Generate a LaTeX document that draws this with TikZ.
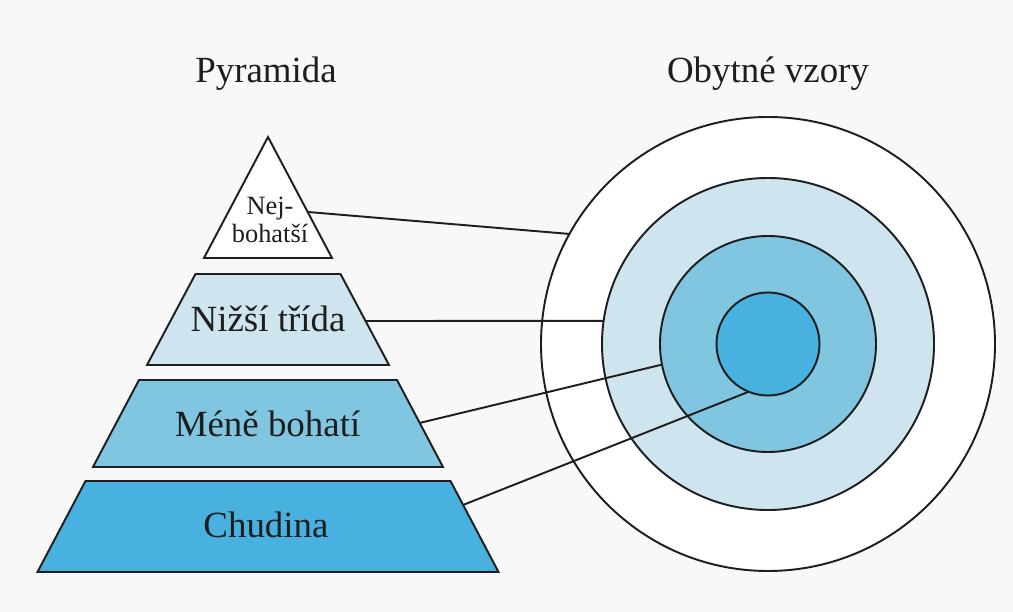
\documentclass[tikz,border=0pt]{standalone}
\usepackage{fontspec}
\setmainfont{Liberation Serif}
\definecolor{pgback}{RGB}{248,248,248}
\definecolor{pglight}{RGB}{206,228,238}
\definecolor{pgmid}{RGB}{128,198,224}
\definecolor{pgdark}{RGB}{72,177,224}
\definecolor{pgink}{RGB}{30,30,30}
\usetikzlibrary{positioning}

\begin{document}
\begin{tikzpicture}[
  layer/.style={draw=pgink, line width=1.1pt, line join=miter},
  ring/.style={circle, draw=pgink, line width=1.1pt, inner sep=0pt, outer sep=0pt},
  link/.style={draw=pgink, line width=1.1pt},
  lbl/.style={anchor=base, text=pgink, font=\fontsize{21}{25}\selectfont}
]
  \useasboundingbox (0,0) rectangle (20.26,12.24);
  \fill[pgback] (0,0) rectangle (20.26,12.24);

  %--- Titles ---
  \node[lbl] (tpyr) at (5.32,10.58) {Pyramida};
  \node[lbl] (tobs) at (15.36,10.58) {Obytné vzory};

  %--- Concentric rings ---
  \node[ring, fill=white, minimum size=9.08cm] (outer) at (15.36,5.36) {};
  \node[ring, fill=pglight, minimum size=6.64cm] (ring2) at (15.36,5.36) {};
  \node[ring, fill=pgmid, minimum size=4.32cm] (ring3) at (15.36,5.36) {};
  \node[ring, fill=pgdark, minimum size=2.06cm] (core) at (15.36,5.36) {};

  %--- Pyramid layers ---
  \filldraw[layer, fill=white] (5.36,9.50) -- (6.64,7.08) -- (4.08,7.08) -- cycle;
  \filldraw[layer, fill=pglight] (3.91,6.76) -- (6.81,6.76) -- (7.78,4.94) -- (2.94,4.94) -- cycle;
  \filldraw[layer, fill=pgmid] (2.78,4.64) -- (7.94,4.64) -- (8.86,2.90) -- (1.86,2.90) -- cycle;
  \filldraw[layer, fill=pgdark] (1.71,2.62) -- (9.01,2.62) -- (9.97,0.80) -- (0.75,0.80) -- cycle;

  \node[anchor=base, text=pgink, align=center, font=\fontsize{15}{16}\selectfont] (rich) at (5.40,7.38) {Nej-\\bohatší};
  \node[lbl] (lower) at (5.36,5.60) {Nižší třída};
  \node[lbl] (less) at (5.35,3.50) {Méně bohatí};
  \node[lbl] (poor) at (5.32,1.48) {Chudina};

  % connector ends on the pyramid sides
  \coordinate (c1) at (6.16,8.00);
  \coordinate (c2) at (7.31,5.82);
  \coordinate (c3) at (8.39,3.78);
  \coordinate (c4) at (9.26,2.14);

  \draw[link] (c1) -- (outer.151.5);
  \draw[link] (c2) -- (ring2.172);
  \draw[link] (c3) -- (ring3.191.5);
  \draw[link] (c4) -- (core.248);
\end{tikzpicture}
\end{document}
